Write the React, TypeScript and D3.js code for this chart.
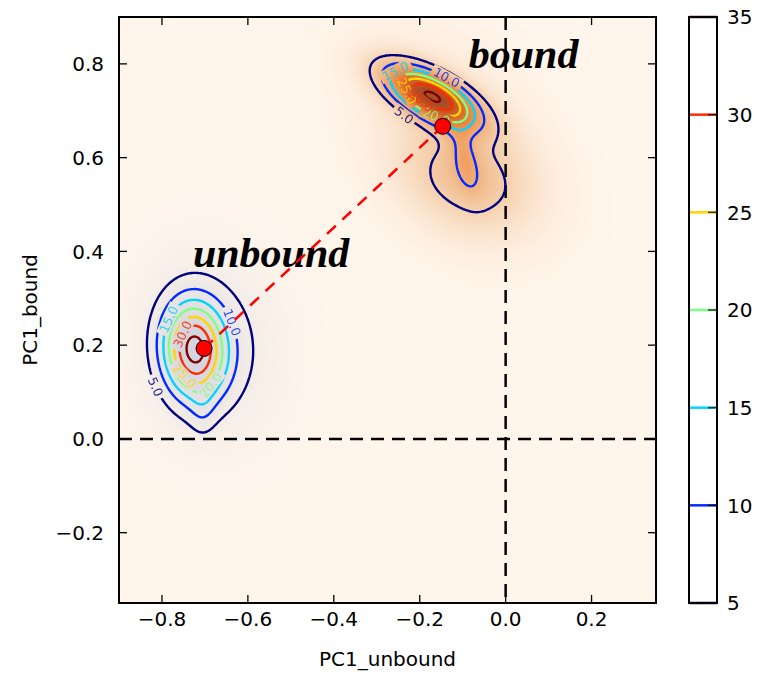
import React, { useMemo } from "react";
import * as d3 from "d3";

// ---------- data ----------
const xDomain = [-0.9, 0.35];
const yDomain = [-0.35, 0.9];
const xTicks = [-0.8, -0.6, -0.4, -0.2, 0.0, 0.2];
const yTicks = [-0.2, 0.0, 0.2, 0.4, 0.6, 0.8];
const contourLevels = [5, 10, 15, 20, 25, 30, 35];
const cbarTicks = [5, 10, 15, 20, 25, 30, 35];
const cbarDomain = [5, 35];

// density components of the "bound" cluster (data units)
const boundCx = [-0.172, -0.095, -0.088];
const boundCy = [0.731, 0.6, 0.556];
const boundAmp = [35.6, 6, 7.5];
const boundSigMaj = [0.079, 0.05, 0.1];
const boundSigMin = [0.032, 0.02, 0.07];
const boundAngle = [-25, -75, -20];

// density components of the "unbound" cluster
const unboundCx = [-0.726, -0.688, -0.705];
const unboundCy = [0.19, 0.2, 0.06];
const unboundAmp = [30, 8, 3.5];
const unboundSigMaj = [0.072, 0.11, 0.04];
const unboundSigMin = [0.05, 0.09, 0.02];
const unboundAngle = [95, 100, 90];

// broad glow of the bound fill
const glowCx = [-0.12];
const glowCy = [0.64];
const glowAmp = [3.5];
const glowSigMaj = [0.15];
const glowSigMin = [0.1];
const glowAngle = [-45];

// mean positions
const markerX = [-0.702, -0.1465];
const markerY = [0.193, 0.667];

// cluster names
const clusterNames = ["unbound", "bound"];
const clusterLabelX = [-0.728, -0.086];
const clusterLabelY = [0.367, 0.791];

// contour label anchors
const labelLevels = [5, 10, 15, 20, 25, 30, 5, 10, 15, 20, 25, 30];
const labelX = [-0.795, -0.635, -0.795, -0.691, -0.737, -0.763, -0.256, -0.133, -0.256, -0.163, -0.235, -0.193];
const labelY = [0.12, 0.249, 0.259, 0.116, 0.144, 0.227, 0.667, 0.78, 0.787, 0.688, 0.737, 0.727];

// ---------- helpers ----------
function gauss(x: number, y: number, cx: number, cy: number, a: number, sMaj: number, sMin: number, ang: number) {
  const t = (ang * Math.PI) / 180;
  const dx = x - cx, dy = y - cy;
  const u = dx * Math.cos(t) + dy * Math.sin(t);
  const v = -dx * Math.sin(t) + dy * Math.cos(t);
  return a * Math.exp(-0.5 * ((u * u) / (sMaj * sMaj) + (v * v) / (sMin * sMin)));
}
function sumField(x: number, y: number, cx: number[], cy: number[], a: number[], sm: number[], sn: number[], an: number[]) {
  let s = 0;
  for (let k = 0; k < cx.length; k++) s += gauss(x, y, cx[k], cy[k], a[k], sm[k], sn[k], an[k]);
  return s;
}
const boundField = (x: number, y: number) => sumField(x, y, boundCx, boundCy, boundAmp, boundSigMaj, boundSigMin, boundAngle);
const unboundField = (x: number, y: number) => sumField(x, y, unboundCx, unboundCy, unboundAmp, unboundSigMaj, unboundSigMin, unboundAngle);
const glowField = (x: number, y: number) => sumField(x, y, glowCx, glowCy, glowAmp, glowSigMaj, glowSigMin, glowAngle);

function jet(t: number) {
  const c = (v: number) => Math.max(0, Math.min(1, v));
  const r = c(1.5 - Math.abs(4 * t - 3));
  const g = c(1.5 - Math.abs(4 * t - 2));
  const b = c(1.5 - Math.abs(4 * t - 1));
  return d3.rgb(r * 255, g * 255, b * 255).formatHex();
}
const levelColor = (v: number) => jet((v - cbarDomain[0]) / (cbarDomain[1] - cbarDomain[0]));

const W = 757, H = 674;
const L = 119, R = 656, T = 17, B = 603;
const FONT = "'DejaVu Sans', sans-serif";

export default function App() {
  const x = d3.scaleLinear().domain(xDomain).range([L, R]);
  const y = d3.scaleLinear().domain(yDomain).range([B, T]);
  const cy = d3.scaleLinear().domain(cbarDomain).range([B, T]);

  const { url, paths, labels } = useMemo(() => {
    const pw = R - L, ph = B - T;
    const canvas = document.createElement("canvas");
    canvas.width = pw;
    canvas.height = ph;
    const ctx = canvas.getContext("2d")!;
    const img = ctx.createImageData(pw, ph);
    const gray = [210, 211, 222];
    const mute = [195, 180, 178];
    for (let j = 0; j < ph; j++) {
      for (let i = 0; i < pw; i++) {
        const xd = x.invert(L + i + 0.5), yd = y.invert(T + j + 0.5);
        const b = boundField(xd, yd) + glowField(xd, yd);
        const u = unboundField(xd, yd);
        const s = 0.9 * Math.pow(Math.min(1, b / 36), 0.85);
        const c = d3.rgb(d3.interpolateOranges(s));
        const mm = 0.2 * Math.min(1, b / 10);
        const cr = c.r * (1 - mm) + mute[0] * mm;
        const cg = c.g * (1 - mm) + mute[1] * mm;
        const cb = c.b * (1 - mm) + mute[2] * mm;
        const a = 0.95 * Math.pow(Math.min(1, u / 32), 0.7);
        const k = (j * pw + i) * 4;
        img.data[k] = cr * (1 - a) + gray[0] * a;
        img.data[k + 1] = cg * (1 - a) + gray[1] * a;
        img.data[k + 2] = cb * (1 - a) + gray[2] * a;
        img.data[k + 3] = 255;
      }
    }
    ctx.putImageData(img, 0, 0);
    const url = canvas.toDataURL();

    const step = 1.5;
    const n = Math.ceil(pw / step), m = Math.ceil(ph / step);
    const vals = new Float64Array(n * m);
    for (let j = 0; j < m; j++)
      for (let i = 0; i < n; i++) {
        const xd = x.invert(L + (i + 0.5) * step), yd = y.invert(T + (j + 0.5) * step);
        vals[j * n + i] = boundField(xd, yd) + unboundField(xd, yd);
      }
    const cs = d3.contours().size([n, m]).thresholds(contourLevels)(Array.from(vals));
    const ringsByLevel: Record<number, number[][][]> = {};
    const paths = cs.map((c) => {
      const rings: number[][][] = [];
      let d = "";
      c.coordinates.forEach((poly) =>
        poly.forEach((ring) => {
          const pts = ring.map((p) => [L + p[0] * step, T + p[1] * step]);
          rings.push(pts);
          d += "M" + pts.map((p) => p[0].toFixed(2) + "," + p[1].toFixed(2)).join("L") + "Z";
        })
      );
      ringsByLevel[c.value] = rings;
      return { level: c.value, d };
    });

    const labels = labelLevels.map((lv, idx) => {
      const ax = x(labelX[idx]), ay = y(labelY[idx]);
      const rings = ringsByLevel[lv] || [];
      let best = { d: Infinity, ring: null as any, k: 0 };
      rings.forEach((ring) =>
        ring.forEach((p, k) => {
          const dd = (p[0] - ax) ** 2 + (p[1] - ay) ** 2;
          if (dd < best.d) best = { d: dd, ring, k };
        })
      );
      if (!best.ring) return null;
      const ring = best.ring as number[][];
      const N = ring.length;
      const p0 = ring[(best.k - 4 + N) % N], p1 = ring[(best.k + 4) % N];
      let ang = (Math.atan2(p1[1] - p0[1], p1[0] - p0[0]) * 180) / Math.PI;
      if (ang > 90) ang -= 180;
      if (ang < -90) ang += 180;
      const text = lv.toFixed(1);
      return { x: ring[best.k][0], y: ring[best.k][1], ang, text, level: lv };
    }).filter(Boolean) as { x: number; y: number; ang: number; text: string; level: number }[];

    return { url, paths, labels };
  }, []);

  const lfs = 12.5;
  const textW = (t: string) => t.split("").reduce((s, ch) => s + (ch === "." ? 0.318 : 0.636), 0) * lfs;

  return (
    <svg width={W} height={H} style={{ position: "absolute", left: 0, top: 0, display: "block" }} fontFamily={FONT}>
      <rect x={0} y={0} width={W} height={H} fill="#ffffff" />
      <defs>
        <clipPath id="plotclip">
          <rect x={L} y={T} width={R - L} height={B - T} />
        </clipPath>
        <mask id="lblmask" maskUnits="userSpaceOnUse" x={0} y={0} width={W} height={H}>
          <rect x={0} y={0} width={W} height={H} fill="white" />
          {labels.map((l, i) => (
            <rect
              key={i}
              transform={`translate(${l.x},${l.y}) rotate(${l.ang})`}
              x={-textW(l.text) / 2 - 3}
              y={-lfs * 0.5}
              width={textW(l.text) + 6}
              height={lfs}
              fill="black"
            />
          ))}
        </mask>
      </defs>
      <image href={url} x={L} y={T} width={R - L} height={B - T} preserveAspectRatio="none" />
      <g clipPath="url(#plotclip)">
        <line x1={x(0)} x2={x(0)} y1={T} y2={B} stroke="#000" strokeWidth={2.5} strokeDasharray="13,8" />
        <line x1={L} x2={R} y1={y(0)} y2={y(0)} stroke="#000" strokeWidth={2.5} strokeDasharray="13,8" />
        <g mask="url(#lblmask)">
          {paths.map((p, i) => (
            <path key={i} d={p.d} fill="none" stroke={levelColor(p.level)} strokeWidth={2.4} strokeLinejoin="round" />
          ))}
        </g>
        {labels.map((l, i) => (
          <text
            key={i}
            transform={`translate(${l.x},${l.y}) rotate(${l.ang})`}
            textAnchor="middle"
            dy="0.36em"
            fontSize={lfs}
            fill={levelColor(l.level)}
            opacity={0.85}
          >
            {l.text}
          </text>
        ))}
        {clusterNames.map((nm, i) => (
          <text
            key={nm}
            x={x(clusterLabelX[i])}
            y={y(clusterLabelY[i])}
            fontFamily="'Liberation Serif', 'Times New Roman', serif"
            fontWeight="bold"
            fontStyle="italic"
            fontSize={42}
            fill="#000"
          >
            {nm}
          </text>
        ))}
        <line
          x1={x(markerX[0])}
          y1={y(markerY[0])}
          x2={x(markerX[1])}
          y2={y(markerY[1])}
          stroke="#ff0000"
          strokeWidth={2.5}
          strokeDasharray="12,9"
        />
        {markerX.map((mx, i) => (
          <circle key={i} cx={x(mx)} cy={y(markerY[i])} r={8} fill="#ff0000" stroke="#000" strokeWidth={1} />
        ))}
      </g>
      {/* ticks */}
      {xTicks.map((t) => (
        <g key={"xt" + t}>
          <line x1={x(t)} x2={x(t)} y1={B} y2={B - 8} stroke="#000" strokeWidth={1.3} />
          <line x1={x(t)} x2={x(t)} y1={T} y2={T + 8} stroke="#000" strokeWidth={1.3} />
          <text x={x(t)} y={B + 23} textAnchor="middle" fontSize={20} fill="#000">
            {d3.format(".1f")(t).replace("-", "\u2212")}
          </text>
        </g>
      ))}
      {yTicks.map((t) => (
        <g key={"yt" + t}>
          <line x1={L} x2={L + 8} y1={y(t)} y2={y(t)} stroke="#000" strokeWidth={1.3} />
          <line x1={R} x2={R - 8} y1={y(t)} y2={y(t)} stroke="#000" strokeWidth={1.3} />
          <text x={L - 15} y={y(t)} dy="0.36em" textAnchor="end" fontSize={20} fill="#000">
            {d3.format(".1f")(t).replace("-", "\u2212")}
          </text>
        </g>
      ))}
      <rect x={L} y={T} width={R - L} height={B - T} fill="none" stroke="#000" strokeWidth={2} />
      <text x={(L + R) / 2} y={666} textAnchor="middle" fontSize={20} fill="#000">
        PC1_unbound
      </text>
      <text transform={`translate(37,${(T + B) / 2}) rotate(-90)`} textAnchor="middle" fontSize={20} fill="#000">
        PC1_bound
      </text>
      {/* colorbar */}
      <rect x={689} y={T} width={28} height={B - T} fill="#fff" />
      {cbarTicks.map((t) => (
        <g key={"cb" + t}>
          <line x1={689} x2={717} y1={cy(t)} y2={cy(t)} stroke={levelColor(t)} strokeWidth={2.5} />
          <line x1={708} x2={717} y1={cy(t)} y2={cy(t)} stroke="#000" strokeWidth={1.5} opacity={0.75} />
          <text x={727} y={cy(t)} dy="0.36em" fontSize={20} fill="#000">
            {t}
          </text>
        </g>
      ))}
      <rect x={689} y={T} width={28} height={B - T} fill="none" stroke="#000" strokeWidth={2} />
    </svg>
  );
}
